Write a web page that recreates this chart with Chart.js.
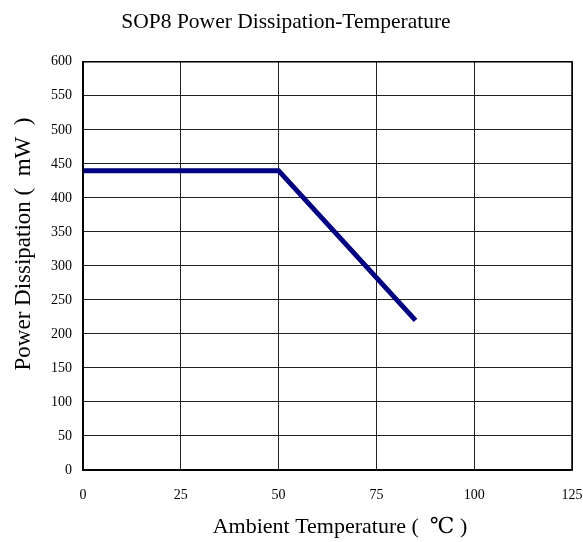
<!DOCTYPE html>
<html>
<head>
<meta charset="utf-8">
<script src="https://cdn.jsdelivr.net/npm/chart.js@4"></script>
<style>
  html, body { margin: 0; padding: 0; background: #fff; }
  #wrap { width: 583px; height: 542px; }
</style>
</head>
<body>
<div id="wrap"><canvas id="chart" width="583" height="542"></canvas></div>
<script>
  // values
  const temps = [0, 50, 85];
  const power = [440, 440, 220];
  const xTicks = [0, 25, 50, 75, 100, 125];
  const yTicks = [0, 50, 100, 150, 200, 250, 300, 350, 400, 450, 500, 550, 600];

  const serif = '"Liberation Serif", "DejaVu Serif", serif';
  const xTitle = 'Ambient Temperature (  ℃ )';
  const yTitle = 'Power Dissipation (  mW  )';

  // axis titles drawn by hand: the original sets them off-centre with wide spacing
  const axisTitles = {
    id: 'axisTitles',
    afterDraw: function (chart) {
      const c = chart.ctx;
      c.save();
      c.fillStyle = '#000';
      c.textAlign = 'center';
      c.textBaseline = 'alphabetic';
      c.font = '22px ' + serif;
      c.fillText(xTitle, 340, 533);
      c.font = '23px ' + serif;
      c.translate(30, 244);
      c.rotate(-Math.PI / 2);
      c.fillText(yTitle, 0, 0);
      c.restore();
    }
  };

  const frame = {
    id: 'frame',
    afterDraw: function (chart) {
      const a = chart.chartArea, c = chart.ctx;
      c.save();
      c.strokeStyle = '#000';
      c.lineWidth = 1.5;
      c.strokeRect(a.left, a.top, a.right - a.left, a.bottom - a.top);
      c.restore();
    }
  };

  new Chart(document.getElementById('chart').getContext('2d'), {
    type: 'scatter',
    data: {
      datasets: [{
        data: temps.map(function (t, i) { return { x: t, y: power[i] }; }),
        showLine: true,
        borderColor: '#000080',
        backgroundColor: '#000080',
        borderWidth: 5,
        pointRadius: 0,
        tension: 0
      }]
    },
    options: {
      responsive: false,
      animation: false,
      layout: { padding: { left: 0, right: 11, top: 0, bottom: 0 } },
      plugins: {
        legend: { display: false },
        tooltip: { enabled: false },
        title: {
          display: true,
          text: 'SOP8 Power Dissipation-Temperature',
          color: '#000',
          font: { family: serif, size: 21.5, weight: 'normal' },
          padding: { top: 9, bottom: 27 }
        }
      },
      scales: {
        x: {
          type: 'linear',
          min: xTicks[0],
          max: xTicks[xTicks.length - 1],
          afterBuildTicks: function (s) { s.ticks = xTicks.map(function (v) { return { value: v }; }); },
          afterFit: function (s) { s.height = 72; s.paddingLeft = 0; s.paddingRight = 0; },
          ticks: { color: '#000', padding: 17, font: { family: serif, size: 14 } },
          grid: { color: '#222', lineWidth: 1, drawTicks: false },
          border: { color: '#000', width: 1.5 }
        },
        y: {
          type: 'linear',
          min: yTicks[0],
          max: yTicks[yTicks.length - 1],
          afterBuildTicks: function (s) { s.ticks = yTicks.map(function (v) { return { value: v }; }); },
          afterFit: function (s) { s.width = 83; },
          ticks: { color: '#000', padding: 11, font: { family: serif, size: 14 } },
          grid: { color: '#222', lineWidth: 1, drawTicks: false },
          border: { color: '#000', width: 1.5 }
        }
      }
    },
    plugins: [frame, axisTitles]
  });
</script>
</body>
</html>
